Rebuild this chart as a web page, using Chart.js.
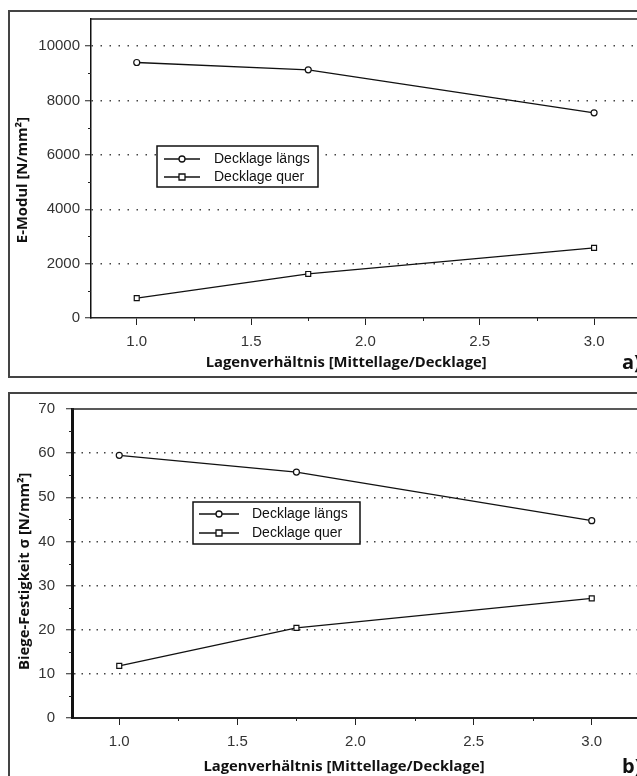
<!DOCTYPE html>
<html>
<head>
<meta charset="utf-8">
<script src="https://cdn.jsdelivr.net/npm/chart.js@4.4.1/dist/chart.umd.min.js"></script>
<style>
  body { margin: 0; width: 637px; height: 776px; overflow: hidden; background: #fff; position: relative; }
  .frame { position: absolute; border: 2px solid #444; box-sizing: border-box; }
  #frameA { left: 8px; top: 10px; width: 660px; height: 368px; }
  #frameB { left: 8px; top: 392px; width: 660px; height: 420px; }
  canvas { position: absolute; left: 0; }
  #chartA { top: 0; }
  #chartB { top: 385px; }
  .tag { position: absolute; left: 622px; font: bold 20px "Open Sans", sans-serif; color: #111; line-height: 24px; }
</style>
</head>
<body>
<div class="frame" id="frameA"></div>
<div class="frame" id="frameB"></div>
<canvas id="chartA" width="645" height="385"></canvas>
<canvas id="chartB" width="645" height="391"></canvas>
<span class="tag" style="top:350px">a)</span>
<span class="tag" style="top:754px">b)</span>
<script>
// values
const ratios = [1.0, 1.75, 3.0];
const seriesNames = ['Decklage längs', 'Decklage quer'];
const eModulLaengs = [9400, 9130, 7550];
const eModulQuer = [730, 1620, 2580];
const festLaengs = [59.5, 55.7, 44.7];
const festQuer = [11.8, 20.4, 27.1];

const xTicks = [1.0, 1.5, 2.0, 2.5, 3.0];
const xMinorTicks = [1.25, 1.75, 2.25, 2.75];
const eModulTicks = [0, 2000, 4000, 6000, 8000, 10000];
const eModulMinor = [1000, 3000, 5000, 7000, 9000];
const festTicks = [0, 10, 20, 30, 40, 50, 60, 70];
const festMinor = [5, 15, 25, 35, 45, 55, 65];

const tickFont = { family: '"Liberation Sans", Arial, sans-serif', size: 15 };
const titleFont = { family: '"Open Sans", sans-serif', size: 14.8, weight: 'bold' };
const nb = n => '\u00a0'.repeat(n);

// minor ticks, top frame line and the boxed legend
const extras = {
  id: 'extras',
  afterDraw(chart, args, o) {
    const { ctx, chartArea: a, scales: { x, y } } = chart;
    ctx.save();
    ctx.strokeStyle = '#222';
    ctx.lineWidth = 1;
    ctx.beginPath();
    o.xMinor.forEach(v => {
      const p = Math.round(x.getPixelForValue(v)) + 0.5;
      ctx.moveTo(p, a.bottom); ctx.lineTo(p, a.bottom + 3);
    });
    o.yMinor.forEach(v => {
      const p = Math.round(y.getPixelForValue(v)) + 0.5;
      ctx.moveTo(a.left - 3, p); ctx.lineTo(a.left, p);
    });
    ctx.stroke();

    ctx.lineWidth = o.frameWidth;
    ctx.beginPath(); ctx.moveTo(a.left, a.top); ctx.lineTo(a.right + 10, a.top); ctx.stroke();

    const L = o.legend;
    ctx.fillStyle = '#fff';
    ctx.fillRect(L.x, L.y, L.w, L.h);
    ctx.lineWidth = 1.5;
    ctx.strokeStyle = '#111';
    ctx.strokeRect(L.x, L.y, L.w, L.h);
    ctx.font = '14px "Liberation Sans", Arial, sans-serif';
    ctx.textBaseline = 'middle';
    chart.data.datasets.forEach((ds, i) => {
      const cy = L.y + L.rows[i];
      const mx = L.x + L.lineX + L.lineW / 2;
      ctx.lineWidth = 1.3;
      ctx.beginPath(); ctx.moveTo(L.x + L.lineX, cy); ctx.lineTo(L.x + L.lineX + L.lineW, cy); ctx.stroke();
      ctx.fillStyle = '#fff';
      ctx.beginPath();
      if (ds.pointStyle === 'rect') ctx.rect(mx - 3, cy - 3, 6, 6);
      else ctx.arc(mx, cy, 3, 0, Math.PI * 2);
      ctx.fill(); ctx.stroke();
      ctx.fillStyle = '#111';
      ctx.fillText(ds.label, L.x + L.textX, cy);
    });
    ctx.restore();
  }
};

function makeChart(id, c) {
  const series = (vals, style, r) => ({
    label: seriesNames[style === 'rect' ? 1 : 0],
    data: ratios.map((x, i) => ({ x: x, y: vals[i] })),
    pointStyle: style,
    pointRadius: r,
    borderColor: '#111',
    borderWidth: 1.3,
    backgroundColor: '#fff',
    pointBackgroundColor: '#fff',
    pointBorderColor: '#111',
    pointBorderWidth: 1.2,
    tension: 0
  });
  return new Chart(document.getElementById(id), {
    type: 'line',
    data: { datasets: [series(c.laengs, 'circle', 3), series(c.quer, 'rect', 3.5)] },
    options: {
      responsive: false,
      animation: false,
      layout: { padding: { left: 0, top: c.top, right: c.right, bottom: 0 } },
      plugins: {
        legend: { display: false },
        tooltip: { enabled: false },
        extras: { xMinor: xMinorTicks, yMinor: c.yMinor, frameWidth: c.frameWidth, legend: c.legend }
      },
      scales: {
        x: {
          type: 'linear', min: 0.8, max: 3.2,
          afterBuildTicks: s => { s.ticks = xTicks.map(v => ({ value: v })); },
          afterFit: s => { s.height = c.xHeight; },
          grid: { drawOnChartArea: false, tickLength: 7, tickColor: '#222', tickWidth: 1 },
          border: { color: '#222', width: c.xBorder },
          ticks: { font: tickFont, color: '#333', padding: c.xPad, callback: v => v.toFixed(1) },
          title: { display: true, text: 'Lagenverhältnis [Mittellage/Decklage]' + nb(c.xShift), font: titleFont, color: '#111', padding: { top: 0, bottom: c.xTitlePad } }
        },
        y: {
          type: 'linear', min: 0, max: c.yMax,
          afterBuildTicks: s => { s.ticks = c.yTicks.map(v => ({ value: v })); },
          afterFit: s => { s.width = c.yWidth; },
          grid: {
            tickLength: 6, tickColor: '#222', tickWidth: 1, lineWidth: 1.5,
            color: ctx => (ctx.tick && ctx.tick.value > 0 && ctx.tick.value < c.yMax) ? '#444' : 'rgba(0,0,0,0)'
          },
          border: { color: '#111', width: c.yBorder, dash: c.dash },
          ticks: { font: tickFont, color: '#333', padding: c.yPad, callback: v => String(v) },
          title: { display: true, text: c.yTitle, font: titleFont, color: '#111', padding: { top: c.yTitlePad, bottom: 0 } }
        }
      }
    },
    plugins: [extras]
  });
}

makeChart('chartA', {
  laengs: eModulLaengs, quer: eModulQuer,
  yTicks: eModulTicks, yMinor: eModulMinor, yMax: 11000,
  yTitle: 'E-Modul [N/mm²]' + nb(6),
  top: 19, right: 5, xHeight: 67, yWidth: 91,
  xPad: 8, yPad: 5, xTitlePad: 13, yTitlePad: 14, xShift: 10,
  xBorder: 1.5, yBorder: 1.5, frameWidth: 1.5, dash: [1.5, 7.5],
  legend: { x: 157, y: 146, w: 161, h: 41, lineX: 7, lineW: 36, textX: 57, rows: [13, 31] }
});

makeChart('chartB', {
  laengs: festLaengs, quer: festQuer,
  yTicks: festTicks, yMinor: festMinor, yMax: 70,
  yTitle: 'Biege-Festigkeit σ [N/mm²]' + nb(4),
  top: 24, right: 6, xHeight: 58, yWidth: 72,
  xPad: 8, yPad: 11, xTitlePad: 0, yTitlePad: 16, xShift: 6,
  xBorder: 2, yBorder: 3, frameWidth: 1.5, dash: [1.5, 6],
  legend: { x: 193, y: 117, w: 167, h: 42, lineX: 6, lineW: 40, textX: 59, rows: [12, 31] }
});
</script>
</body>
</html>
